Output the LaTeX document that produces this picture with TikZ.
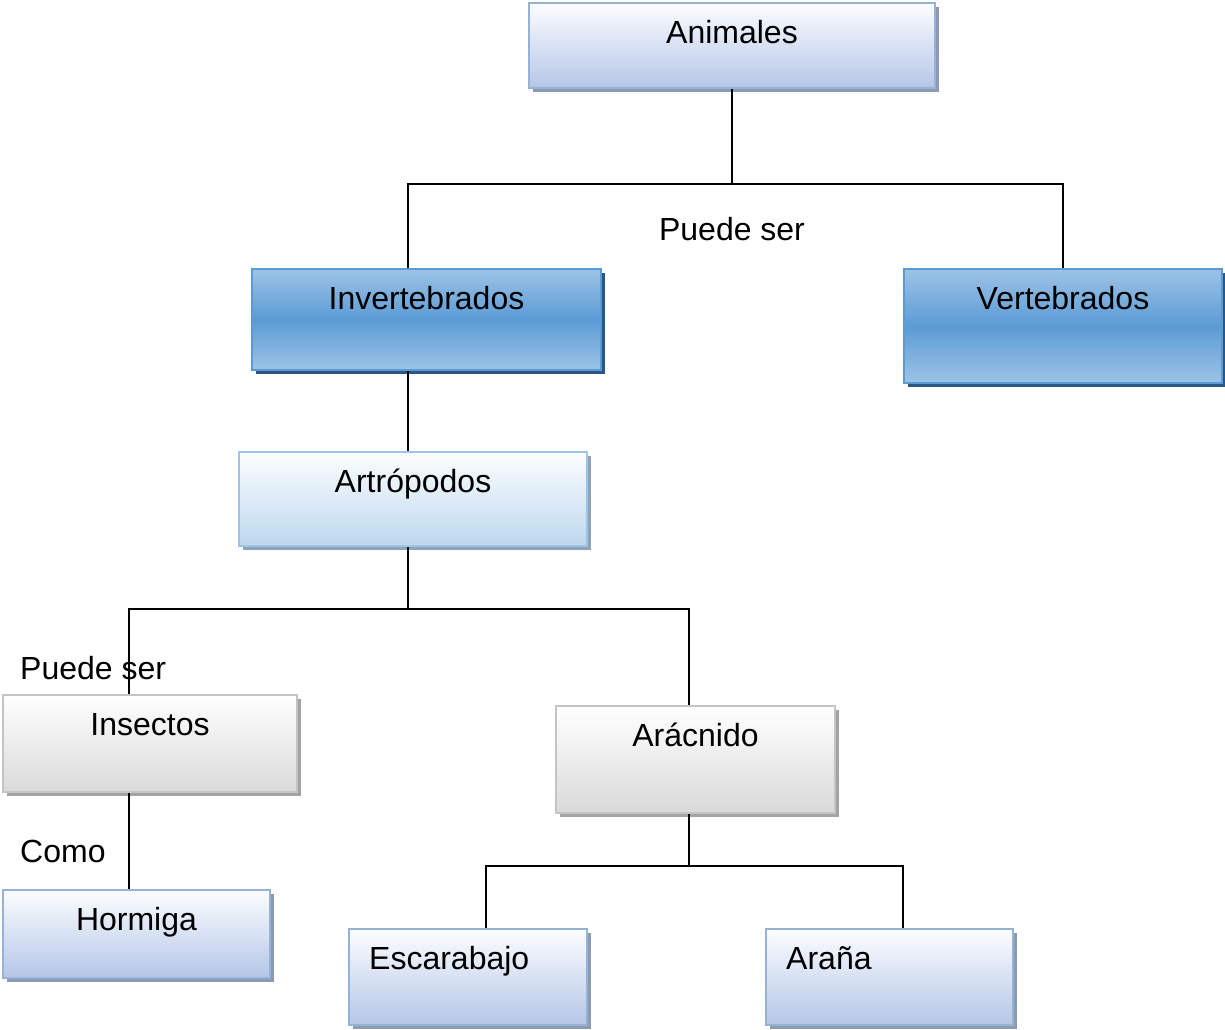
\documentclass[tikz,border=0pt]{standalone}
\usepackage{fontspec}
\setmainfont{Liberation Sans}
\usetikzlibrary{shadows}
\definecolor{lbTop}{HTML}{FCFDFF}
\definecolor{lbBot}{HTML}{B4C6E7}
\definecolor{lbBorder}{HTML}{95B3D7}
\definecolor{lbShadow}{HTML}{8C9AB2}
\definecolor{cyTop}{HTML}{FCFEFF}
\definecolor{cyBot}{HTML}{BDD7EE}
\definecolor{cyBorder}{HTML}{9DC3E6}
\definecolor{cyShadow}{HTML}{8FA3B8}
\definecolor{dbEdge}{HTML}{9DC3E6}
\definecolor{dbMid}{HTML}{5B9BD5}
\definecolor{dbBorder}{HTML}{5B9BD5}
\definecolor{dbShadow}{HTML}{2A5783}
\definecolor{gyTop}{HTML}{FFFFFF}
\definecolor{gyBot}{HTML}{D9D9D9}
\definecolor{gyBorder}{HTML}{C4C4C4}
\definecolor{gyShadow}{HTML}{A3A3A3}
\tikzset{
  x=1pt, y=-1pt,
  txt/.style={font=\fontsize{32}{37}\selectfont, text=black, inner sep=0pt},
  boxbase/.style={rectangle, anchor=north west, line width=2pt, inner sep=0pt},
  lightbox/.style={boxbase, draw=lbBorder, top color=lbTop, bottom color=lbBot,
     drop shadow={shadow xshift=4pt, shadow yshift=-4pt, fill=lbShadow, opacity=1}},
  cyanbox/.style={boxbase, draw=cyBorder, top color=cyTop, bottom color=cyBot,
     drop shadow={shadow xshift=4pt, shadow yshift=-4pt, fill=cyShadow, opacity=1}},
  darkbox/.style={boxbase, draw=dbBorder, top color=dbEdge, bottom color=dbEdge, middle color=dbMid,
     drop shadow={shadow xshift=4pt, shadow yshift=-4pt, fill=dbShadow, opacity=1}},
  graybox/.style={boxbase, draw=gyBorder, top color=gyTop, bottom color=gyBot,
     drop shadow={shadow xshift=4pt, shadow yshift=-4pt, fill=gyShadow, opacity=1}},
  ctext/.style={label={[txt, anchor=base, yshift=-41pt]north:{#1}}},
  ltext/.style={label={[txt, anchor=base west, yshift=-41pt, xshift=21pt]north west:{#1}}},
  conn/.style={draw=black, line width=2pt},
}
\begin{document}
\begin{tikzpicture}
\useasboundingbox (0,0) rectangle (1225,1029);
% boxes
\node[lightbox, minimum width=406pt, minimum height=85pt, ctext=Animales] (anim) at (528,2) {};
\node[darkbox, minimum width=349pt, minimum height=101pt, ctext=Invertebrados] (inv) at (251,268) {};
\node[darkbox, minimum width=318pt, minimum height=114pt, ctext=Vertebrados] (vert) at (903,268) {};
\node[cyanbox, minimum width=348pt, minimum height=94pt, ctext=Artrópodos] (art) at (238,451) {};
\node[graybox, minimum width=294pt, minimum height=97pt, ctext=Insectos] (ins) at (2,694) {};
\node[graybox, minimum width=279pt, minimum height=107pt, ctext=Arácnido] (arac) at (555,705) {};
\node[lightbox, minimum width=267pt, minimum height=88pt, ctext=Hormiga] (horm) at (2,889) {};
\node[lightbox, minimum width=238pt, minimum height=96pt, ltext=Escarabajo] (esc) at (348,928) {};
\node[lightbox, minimum width=247pt, minimum height=96pt, ltext=Araña] (ara) at (765,928) {};
% free labels
\node[txt, anchor=base] (ps1) at (732,240) {Puede ser};
\node[txt, anchor=base west] (ps2) at (20,679) {Puede ser};
\node[txt, anchor=base west] (como) at (20,862) {Como};
% junction coordinates
\coordinate (h1M) at (732,184);
\coordinate (h1L) at (408,184);
\coordinate (h1R) at (1063,184);
\coordinate (h2M) at (408,609);
\coordinate (h2L) at (129,609);
\coordinate (h2R) at (689,609);
\coordinate (h3M) at (689,866);
\coordinate (h3L) at (486,866);
\coordinate (h3R) at (903,866);
% connectors
\draw[conn] (anim.south -| h1M) -- (h1M);
\draw[conn] (h1L |- inv.north) |- (h1R) -- (h1R |- vert.north);
\draw[conn] (inv.south -| h1L) -- (h1L |- art.north);
\draw[conn] (art.south -| h2M) -- (h2M);
\draw[conn] (h2L |- ins.north) |- (h2R) -- (h2R |- arac.north);
\draw[conn] (ins.south -| h2L) -- (h2L |- horm.north);
\draw[conn] (arac.south -| h3M) -- (h3M);
\draw[conn] (h3L |- esc.north) |- (h3R) -- (h3R |- ara.north);
\end{tikzpicture}
\end{document}
